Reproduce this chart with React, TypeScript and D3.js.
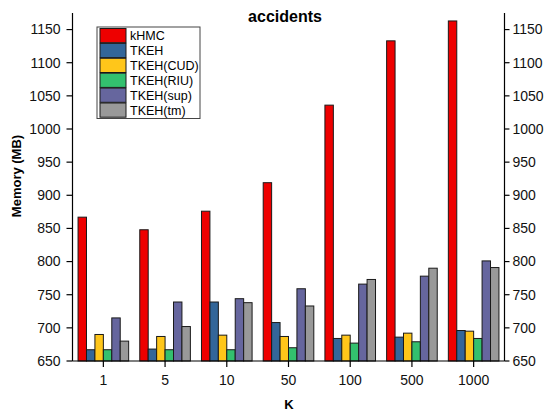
import React from "react";
import * as d3 from "d3";

const categories = ["1", "5", "10", "50", "100", "500", "1000"];
const seriesNames = ["kHMC", "TKEH", "TKEH(CUD)", "TKEH(RIU)", "TKEH(sup)", "TKEH(tm)"];
const seriesColors = ["#EE0000", "#336699", "#FFC61A", "#33C06E", "#66669E", "#999999"];

const kHMC = [867, 848, 876, 919, 1036, 1133, 1163];
const tkeh = [667, 668, 739, 708, 684, 686, 696];
const tkehCUD = [690, 687, 689, 687, 689, 692, 695];
const tkehRIU = [667, 667, 667, 670, 677, 679, 684];
const tkehSup = [715, 739, 744, 759, 766, 778, 801];
const tkehTm = [680, 702, 738, 733, 773, 790, 791];

const yTicks = [650, 700, 750, 800, 850, 900, 950, 1000, 1050, 1100, 1150];

const W = 544;
const H = 414;
const left = 72.5;
const right = 504.5;
const top = 13;
const bottom = 361;
const font = "Liberation Sans, Arial, sans-serif";

export default function App() {
  const seriesValues = [kHMC, tkeh, tkehCUD, tkehRIU, tkehSup, tkehTm];
  const x = d3.scaleBand<string>().domain(categories).range([left, right]).padding(0);
  const bw = x.bandwidth();
  const inner = d3
    .scaleBand<string>()
    .domain(seriesNames)
    .range([bw * 0.09, bw * 0.91])
    .padding(0);
  const y = d3.scaleLinear().domain([650, 1175]).range([bottom, top]);

  return (
    <svg
      width={W}
      height={H}
      style={{ position: "absolute", left: 0, top: 0, background: "#fff" }}
      fontFamily={font}
    >
      {/* bars */}
      {categories.map((c, ci) => (
        <g key={c} transform={`translate(${x(c)},0)`}>
          {seriesNames.map((s, si) => {
            const v = seriesValues[si][ci];
            return (
              <rect
                key={s}
                x={inner(s)}
                y={y(v)}
                width={inner.bandwidth()}
                height={y(650) - y(v)}
                fill={seriesColors[si]}
                stroke="#1a1a1a"
                strokeWidth={1}
              />
            );
          })}
        </g>
      ))}

      {/* left axis */}
      <line x1={left} x2={left} y1={top} y2={bottom} stroke="#000" strokeWidth={1.2} />
      {yTicks.map((t) => (
        <g key={"l" + t}>
          <line x1={left - 6} x2={left} y1={y(t)} y2={y(t)} stroke="#000" strokeWidth={1.2} />
          <text x={left - 12} y={y(t)} dy="0.35em" textAnchor="end" fontSize={14} fill="#111">
            {t}
          </text>
        </g>
      ))}

      {/* right axis */}
      <line x1={right} x2={right} y1={top} y2={bottom} stroke="#000" strokeWidth={1.2} />
      {yTicks.map((t) => (
        <g key={"r" + t}>
          <line x1={right} x2={right + 5} y1={y(t)} y2={y(t)} stroke="#000" strokeWidth={1.2} />
          <text x={right + 8} y={y(t)} dy="0.35em" textAnchor="start" fontSize={14} fill="#111">
            {t}
          </text>
        </g>
      ))}

      {/* bottom axis */}
      <line x1={left} x2={right} y1={bottom} y2={bottom} stroke="#000" strokeWidth={1.2} />
      {categories.map((c) => {
        const cx = (x(c) as number) + bw / 2;
        return (
          <g key={"b" + c}>
            <line x1={cx} x2={cx} y1={bottom} y2={bottom + 6} stroke="#000" strokeWidth={1.2} />
            <text x={cx} y={bottom + 24} textAnchor="middle" fontSize={14} fill="#111">
              {c}
            </text>
          </g>
        );
      })}

      {/* titles */}
      <text x={285} y={22} textAnchor="middle" fontSize={16} fontWeight="bold" fill="#000">
        accidents
      </text>
      <text x={289} y={409} textAnchor="middle" fontSize={13} fontWeight="bold" fill="#000">
        K
      </text>
      <text
        transform={`translate(21,176) rotate(-90)`}
        textAnchor="middle"
        fontSize={13}
        fontWeight="bold"
        fill="#000"
      >
        Memory (MB)
      </text>

      {/* legend */}
      <g>
        <rect x={97} y={27} width={103} height={91.5} fill="#fff" stroke="#444" strokeWidth={1} />
        {seriesNames.map((s, i) => (
          <g key={"lg" + s}>
            <rect
              x={100}
              y={28.5 + i * 14.9}
              width={26}
              height={14.2}
              fill={seriesColors[i]}
              stroke="#1a1a1a"
              strokeWidth={1}
            />
            <text x={130} y={28.5 + i * 14.9 + 7.3} dy="0.35em" fontSize={12.5} fill="#000">
              {s}
            </text>
          </g>
        ))}
      </g>
    </svg>
  );
}
